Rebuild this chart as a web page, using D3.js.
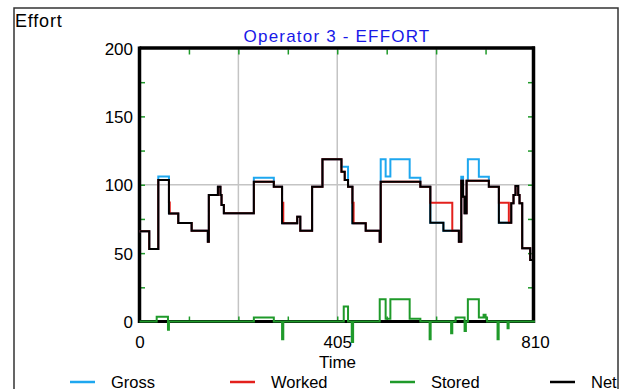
<!DOCTYPE html>
<html><head><meta charset="utf-8">
<script src="https://cdn.jsdelivr.net/npm/d3@7"></script>
<style>body{margin:0;background:#fff;} svg{display:block;font-family:"Liberation Sans",Arial,sans-serif;}</style>
</head><body><svg id="c" width="631" height="389"></svg>
<script>
// ---- data ----
const times  = [0,20,38.5,60.3,62,79.4,106.8,140,142,160.6,165.7,168,172.8,234.2,275.1,292,294.5,323,329.3,353.5,374.7,413.6,420.3,427.1,436.1,438.5,463.3,492,494,504.1,513.8,553.3,575.2,595.6,622.4,640.6,654.1,659,662.7,665.8,669.9,672.5,695,715.5,736,756.4,761.3,766,770.1,775.6,778.3,783.8,800.2,810];
const net    = [66,53,103.5,79,79,72,66.4,58.4,92.5,98.6,92.5,85.2,79.1,102.2,98.6,71.8,71.8,76.6,66.4,98.6,118.6,109.5,103.5,98.6,71.8,71.8,66.4,58.4,102.2,102.2,102.2,102.2,98.6,72.2,66.4,66.4,58.4,103,91.3,79.1,103,103,103,98.6,72.2,72.2,86.4,92.5,99.1,92.5,86.4,53.5,45,45];
const worked = [66,53,103.5,87,79,72,66.4,58.4,92.5,98.6,92.5,85.2,79.1,102.2,98.6,86.9,71.8,76.6,66.4,98.6,118.6,109.5,103.5,98.6,86.9,71.8,66.4,58.4,102.2,102.2,102.2,102.2,98.6,86.9,86.9,66.4,58.4,103,91.3,79.1,103,103,103,98.6,86.9,72.2,86.4,92.5,99.1,92.5,86.4,53.5,45,45];
const gross  = [66,53,106,79,79,72,66.4,58.4,92.5,98.6,92.5,85.2,79.1,105.2,98.6,71.8,71.8,76.6,66.4,98.6,118.6,113.2,113.2,98.6,71.8,71.8,66.4,58.4,118.6,106,118.6,105.2,98.6,72.2,66.4,66.4,58.4,105.9,91.3,79.1,103,118.6,105.9,98.6,72.2,72.2,86.4,92.5,99.1,92.5,86.4,53.5,45,45];
const storedTimes = [0,35.2,58.3,60.3,234.2,275.1,292,294.5,418.3,427.1,434.7,437.5,492,504.1,513.8,553.3,575.2,594.2,596.3,638.2,640.6,647.4,665.8,668.5,672.5,695,704.7,708.8,711.8,733.3,735.6,753.8,756,810];
const stored = [0,3.5,-6,0,3,0,-13,0,11,0,-15,0,16.2,2,16.2,2,0,-13,0,-8.6,0,3,-7,0,16.2,3,5,3,0,-13,0,-5,0,0];
const xTicks = [0,405,810];
const yTicks = [0,50,100,150,200];
const xGrid = [202.5,405,607.5];
const yGrid = [100];
const xMinor = [101.25,202.5,303.75,405,506.25,607.5,708.75];
const yMinor = [25,50,75,100,125,150,175];
const seriesNames = ["Gross","Worked","Stored","Net"];
const seriesColors = ["#1ea7ef","#e3201c","#1f9a2a","#000000"];

// ---- chart ----
const svg = d3.select("#c");
const L = 139.5, R = 535, T = 48, B = 321.5;
const x = d3.scaleLinear().domain([0,810]).range([L,R]);
const y = d3.scaleLinear().domain([0,200]).range([B,T]);

// outer frame
svg.append("rect").attr("x",14).attr("y",8).attr("width",604).attr("height",420)
  .attr("fill","none").attr("stroke","#333").attr("stroke-width",1.5);

// grid
svg.append("g").selectAll("line").data(xGrid).join("line")
  .attr("x1",d=>x(d)).attr("x2",d=>x(d)).attr("y1",T).attr("y2",B)
  .attr("stroke","#c4c4c4").attr("stroke-width",1.5);
svg.append("g").selectAll("line").data(yGrid).join("line")
  .attr("x1",L).attr("x2",R).attr("y1",d=>y(d)).attr("y2",d=>y(d))
  .attr("stroke","#c4c4c4").attr("stroke-width",1.5);

// minor green ticks via axes
function greenAxis(g){ g.select(".domain").remove(); g.selectAll(".tick line").attr("stroke","#1f9a2a").attr("stroke-width",1.5); g.selectAll("text").remove(); }
svg.append("g").attr("transform",`translate(0,${T+1.5})`).call(d3.axisBottom(x).tickValues(xMinor).tickSize(5).tickFormat("")).call(greenAxis);
svg.append("g").attr("transform",`translate(0,${B-1})`).call(d3.axisTop(x).tickValues(xMinor).tickSize(4).tickFormat("")).call(greenAxis);
svg.append("g").attr("transform",`translate(${L+1.5},0)`).call(d3.axisRight(y).tickValues(yMinor).tickSize(4).tickFormat("")).call(greenAxis);
svg.append("g").attr("transform",`translate(${R-3},0)`).call(d3.axisLeft(y).tickValues(yMinor).tickSize(4).tickFormat("")).call(greenAxis);

// frame lines
svg.append("line").attr("x1",L).attr("x2",L).attr("y1",T-1.5).attr("y2",B+1.5).attr("stroke","#000").attr("stroke-width",3.5);
svg.append("line").attr("x1",R-1.5).attr("x2",R-1.5).attr("y1",T-1.5).attr("y2",B+1.5).attr("stroke","#000").attr("stroke-width",3.5);
svg.append("line").attr("x1",L).attr("x2",R).attr("y1",T).attr("y2",T).attr("stroke","#000").attr("stroke-width",3.5);
svg.append("line").attr("x1",L).attr("x2",R).attr("y1",B).attr("y2",B).attr("stroke","#000").attr("stroke-width",3);

// tick labels
const yAx = svg.append("g").attr("transform",`translate(${L},0)`)
  .call(d3.axisLeft(y).tickValues(yTicks).tickSize(0).tickPadding(6.5));
yAx.select(".domain").remove();
yAx.selectAll("text").attr("font-family","Liberation Sans, Arial, sans-serif").attr("font-size",17).attr("fill","#000").attr("dy","0.36em");
const xAx = svg.append("g").attr("transform",`translate(0,${B})`)
  .call(d3.axisBottom(x).tickValues(xTicks).tickSize(0).tickPadding(14.5));
xAx.select(".domain").remove();
xAx.selectAll("text").attr("font-family","Liberation Sans, Arial, sans-serif").attr("font-size",17).attr("fill","#000");

// series
const mk = (ts, vs) => ts.map((t,i)=>({t, v: vs[i]}));
const line = d3.line().x(d=>x(d.t)).y(d=>y(d.v)).curve(d3.curveStepAfter);
const series = [
  {data: mk(times, gross), color: seriesColors[0]},
  {data: mk(times, worked), color: seriesColors[1]},
  {data: mk(storedTimes, stored), color: seriesColors[2]},
  {data: mk(times, net), color: seriesColors[3]}
];
svg.append("g").selectAll("path").data(series).join("path")
  .attr("d", d=>line(d.data)).attr("fill","none").attr("stroke", d=>d.color)
  .attr("stroke-width",2).attr("stroke-linejoin","miter");

// texts
svg.append("text").attr("x",15).attr("y",27).attr("font-size",18).attr("letter-spacing",0.8).text("Effort");
svg.append("text").attr("x",337).attr("y",41.5).attr("text-anchor","middle").attr("font-size",17)
  .attr("letter-spacing",1.2).attr("fill","#1818e8").text("Operator 3 - EFFORT");
svg.append("text").attr("x",337.5).attr("y",368).attr("text-anchor","middle").attr("font-size",17).text("Time");

// legend
const lg = svg.append("g").selectAll("g").data(seriesNames).join("g")
  .attr("transform",(d,i)=>`translate(${70+i*160},0)`);
lg.append("line").attr("x1",0).attr("x2",25).attr("y1",382).attr("y2",382)
  .attr("stroke",(d,i)=>seriesColors[i]).attr("stroke-width",2.5);
lg.append("text").attr("x",41).attr("y",387.5).attr("font-size",16.5).text(d=>d);
</script></body></html>
